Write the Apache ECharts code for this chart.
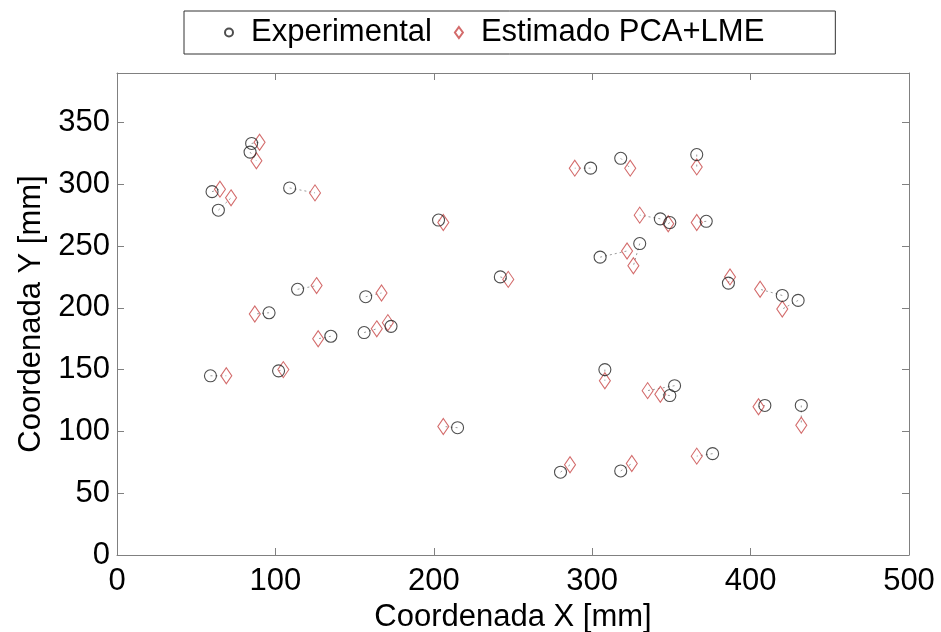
<!DOCTYPE html>
<html>
<head>
<meta charset="utf-8">
<script src="https://cdn.jsdelivr.net/npm/echarts@6/dist/echarts.min.js"></script>
<style>
  html, body { margin: 0; padding: 0; background: #fff; }
  #chart { width: 941px; height: 632px; }
</style>
</head>
<body>
<div id="chart"></div>
<script>
// measured points (mm)
var expX = [85, 84, 60, 64, 109, 203, 242, 114, 96, 157, 135, 156, 173, 59, 102, 215, 299, 318, 366, 343, 349, 372, 305, 330, 386, 420, 430, 308, 352, 349, 409, 432, 280, 318, 376];
var expY = [333, 326, 294, 279, 297, 271, 225, 215, 196, 209, 177, 180, 185, 145, 149, 103, 313, 321, 324, 272, 269, 270, 241, 252, 220, 210, 206, 150, 137, 129, 121, 121, 67, 68, 82];
// estimated points, same order as the measured ones
var estX = [90, 88, 65, 72, 125, 206, 247, 126, 87, 167, 127, 164, 171, 69, 105, 206, 289, 324, 366, 330, 348, 366, 322, 326, 387, 406, 420, 308, 335, 343, 405, 432, 286, 325, 366];
var estY = [334, 319, 296, 289, 293, 269, 223, 218, 195, 212, 175, 183, 188, 145, 150, 104, 313, 313, 314, 275, 268, 269, 246, 234, 225, 215, 199, 141, 133, 130, 120, 105, 73, 74, 80];

var xTicks = [0, 100, 200, 300, 400, 500];
var yTicks = [0, 50, 100, 150, 200, 250, 300, 350];

var expData = [], estData = [], linkData = [];
for (var i = 0; i < expX.length; i++) {
    expData.push([expX[i], expY[i]]);
    estData.push([estX[i], estY[i]]);
    linkData.push([expX[i], expY[i]]);
    linkData.push([estX[i], estY[i]]);
    linkData.push(['-', '-']);
}

var font = 'Liberation Sans, Arial, Helvetica, sans-serif';
var axisColor = '#808080';
var fs = 31;

function boxAxis(pos, max, interval) {
    return {
        type: 'value',
        position: pos,
        min: 0, max: max, interval: interval,
        axisLine: { show: true, onZero: false, lineStyle: { color: axisColor } },
        axisTick: { show: true, inside: true, length: 7, lineStyle: { color: axisColor } },
        axisLabel: { show: false },
        splitLine: { show: false }
    };
}

var myChart = echarts.init(document.getElementById('chart'));

var option = {
    animation: false,
    backgroundColor: '#fff',
    textStyle: { fontFamily: font },
    grid: { left: 117, right: 32, top: 73, bottom: 77, containLabel: false, outerBoundsMode: 'none' },
    legend: {
        data: [
            { name: 'Experimental', icon: 'circle' },
            { name: 'Estimado PCA+LME', icon: 'diamond' }
        ],
        left: 184,
        top: 11,
        padding: [6, 71, 6, 40],
        itemGap: 22,
        itemWidth: 8,
        itemHeight: 11,
        borderColor: '#333',
        borderWidth: 1,
        textStyle: { fontSize: fs, color: '#000', fontFamily: font, padding: [0, 0, 0, 13] }
    },
    xAxis: [{
        type: 'value',
        min: 0, max: 500, interval: 100,
        name: 'Coordenada X [mm]',
        nameLocation: 'middle',
        nameGap: 42,
        nameTextStyle: { fontSize: fs, color: '#000', fontFamily: font },
        axisLine: { show: true, onZero: false, lineStyle: { color: axisColor } },
        axisTick: { show: true, inside: true, length: 7, lineStyle: { color: axisColor } },
        axisLabel: {
            fontSize: fs, color: '#000', margin: 11,
            formatter: function (v) { return xTicks.indexOf(v) >= 0 ? String(v) : ''; }
        },
        splitLine: { show: false }
    }, boxAxis('top', 500, 100)],
    yAxis: [{
        type: 'value',
        min: 0, max: 390, interval: 50,
        name: 'Coordenada Y [mm]',
        nameLocation: 'middle',
        nameGap: 68,
        nameTextStyle: { fontSize: fs, color: '#000', fontFamily: font },
        axisLine: { show: true, onZero: false, lineStyle: { color: axisColor } },
        axisTick: { show: true, inside: true, length: 7, lineStyle: { color: axisColor } },
        axisLabel: {
            fontSize: fs, color: '#000', margin: 7, showMaxLabel: false,
            formatter: function (v) { return yTicks.indexOf(v) >= 0 ? String(v) : ''; }
        },
        splitLine: { show: false }
    }, boxAxis('right', 390, 50)],
    series: [{
        name: 'link',
        type: 'line',
        data: linkData,
        showSymbol: false,
        symbol: 'none',
        connectNulls: false,
        silent: true,
        lineStyle: { color: '#9a9a9a', width: 1, type: [2, 3] },
        z: 1
    }, {
        name: 'Experimental',
        type: 'scatter',
        data: expData,
        symbol: 'circle',
        symbolSize: 12,
        itemStyle: { color: 'rgba(0,0,0,0)', borderColor: '#222', borderWidth: 1.1 },
        z: 3
    }, {
        name: 'Estimado PCA+LME',
        type: 'scatter',
        data: estData,
        symbol: 'diamond',
        symbolSize: [11, 16],
        itemStyle: { color: 'rgba(0,0,0,0)', borderColor: '#c84646', borderWidth: 1.1 },
        z: 2
    }]
};

myChart.setOption(option);
</script>
</body>
</html>
